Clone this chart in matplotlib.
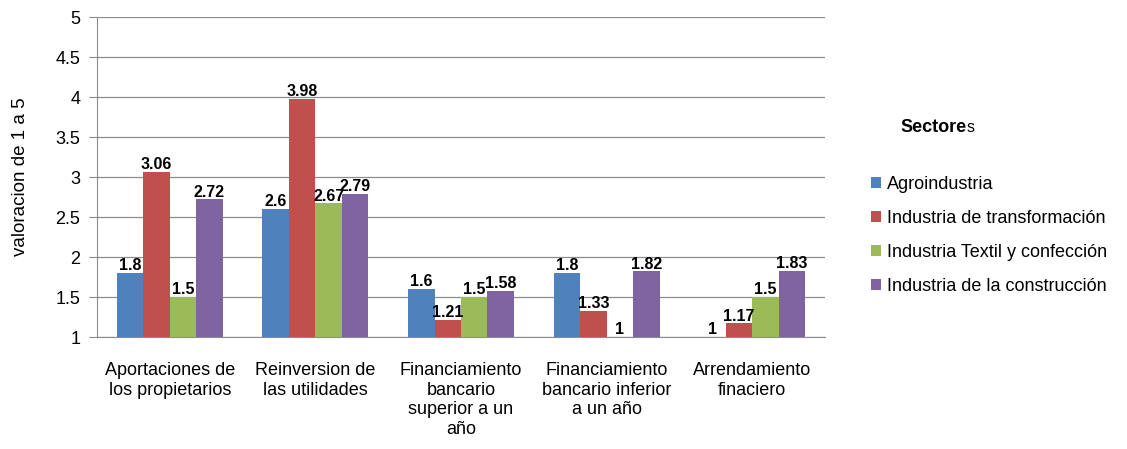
import matplotlib
matplotlib.use("Agg")
import matplotlib.pyplot as plt
import numpy as np

categories = ["Aportaciones de\nlos propietarios", "Reinversion de\nlas utilidades",
              "Financiamiento\nbancario\nsuperior a un\naño",
              "Financiamiento\nbancario inferior\na un año", "Arrendamiento\nfinaciero"]
series_names = ["Agroindustria", "Industria de transformación",
                "Industria Textil y confección", "Industria de la construcción"]
agro = [1.8, 2.6, 1.6, 1.8, 1.0]
transf = [3.06, 3.98, 1.21, 1.33, 1.17]
textil = [1.5, 2.67, 1.5, 1.0, 1.5]
constr = [2.72, 2.79, 1.58, 1.82, 1.83]
label_text = [["1.8", "2.6", "1.6", "1.8", "1"],
              ["3.06", "3.98", "1.21", "1.33", "1.17"],
              ["1.5", "2.67", "1.5", "1", "1.5"],
              ["2.72", "2.79", "1.58", "1.82", "1.83"]]
colors = ["#4F81BD", "#C0504D", "#9BBB59", "#8064A2"]

plt.rcParams['font.family'] = ['Liberation Sans', 'DejaVu Sans']

W, H = 1127, 449
fig = plt.figure(figsize=(W / 100, H / 100), dpi=100)
ax = fig.add_axes([97 / W, 1 - 337 / H, 728 / W, 320 / H])

x = np.arange(len(categories))
w = 0.182
data = [agro, transf, textil, constr]
for i, (vals, c, name) in enumerate(zip(data, colors, series_names)):
    pos = x + (i - 1.5) * w
    heights = [v - 1 for v in vals]
    ax.bar(pos, heights, width=w, bottom=1, color=c, label=name, zorder=3)
    for p, v, t in zip(pos, vals, label_text[i]):
        ax.annotate(t, (p, v), xytext=(0, 2), textcoords='offset points',
                    ha='center', va='baseline', fontsize=11.5,
                    fontweight='bold', zorder=4)

ax.set_xlim(-0.5, len(categories) - 0.5)
ax.set_ylim(1, 5)
ax.set_yticks(np.arange(1, 5.01, 0.5))
ax.set_yticklabels(["1", "1.5", "2", "2.5", "3", "3.5", "4", "4.5", "5"], fontsize=13)
ax.yaxis.grid(True, color='#8C8C8C', linewidth=0.9, zorder=0)
ax.set_xticks(x)
ax.set_xticklabels(categories, fontsize=13, linespacing=1.2)
ax.tick_params(axis='x', length=0, pad=18)
ax.tick_params(axis='y', length=6, color='#8C8C8C', pad=6)
for s in ['top', 'right']:
    ax.spines[s].set_visible(False)
for s in ['left', 'bottom']:
    ax.spines[s].set_color('#8C8C8C')
ax.set_ylabel("valoracion de 1 a 5", fontsize=13.5, labelpad=19)

leg = fig.legend(loc='upper left', bbox_to_anchor=(858 / W, 1 - 163 / H), frameon=False,
                 fontsize=13, handlelength=0.55, handleheight=0.55, handletextpad=0.35,
                 labelspacing=0.95, borderpad=0.2)

t1 = fig.text(900 / W, 1 - 128 / H, "Sectore", fontsize=13, fontweight='bold',
              ha='left', va='center')
fig.canvas.draw()
bb = t1.get_window_extent()
fig.text(bb.x1 / W, 1 - 128 / H, "s", fontsize=11.5, ha='left', va='center')

fig.savefig("out.png", dpi=100)
